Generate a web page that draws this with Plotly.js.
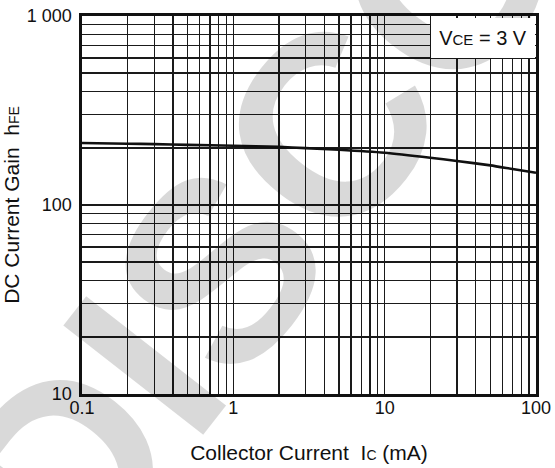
<!DOCTYPE html>
<html>
<head>
<meta charset="utf-8">
<script src="https://cdn.plot.ly/plotly-3.0.1.min.js"></script>
<style>
  html, body { margin: 0; padding: 0; background: #ffffff; }
  #chart { width: 555px; height: 468px; }
</style>
</head>
<body>
<div id="chart"></div>
<script>
// ---- data ----
const collectorCurrent_mA = [0.1, 0.2, 0.3, 0.5, 1, 2, 3, 5, 10, 20, 30, 50, 70, 100];
const dcCurrentGain_hFE   = [213, 211, 210, 208, 206, 203, 200, 196, 189, 178, 171, 162, 155, 148];

const xGridValues = [0.1,0.2,0.3,0.4,0.5,0.6,0.7,0.8,0.9,1,2,3,4,5,6,7,8,9,10,20,30,40,50,60,70,80,90,100];
const xLabeled    = {0.1: '0.1', 1: '1', 10: '10', 100: '100'};
const yGridValues = [10,20,30,40,50,60,70,80,90,100,200,300,400,500,600,700,800,900,1000];
const yLabeled    = {10: '10', 100: '100', 1000: '1 000'};

const conditionLabel = 'V<span style="font-size:15px">CE</span> = 3 V';
const watermarkText = 'DISCONTINUED';

const xTickText = xGridValues.map(v => xLabeled[v] || '');
const yTickText = yGridValues.map(v => yLabeled[v] || '');

const FONT = 'Liberation Sans, Arial, Helvetica, sans-serif';
const INK = '#111111';

const trace = {
  x: collectorCurrent_mA,
  y: dcCurrentGain_hFE,
  type: 'scatter',
  mode: 'lines',
  line: { color: INK, width: 2.6, shape: 'spline', smoothing: 0.6 },
  hoverinfo: 'skip'
};

const layout = {
  width: 555,
  height: 468,
  margin: { l: 82, r: 19, t: 16, b: 74 },
  paper_bgcolor: '#ffffff',
  plot_bgcolor: 'rgba(0,0,0,0)',
  showlegend: false,
  font: { family: FONT, color: INK, size: 18 },
  xaxis: {
    type: 'log',
    range: [-1, 2],
    tickmode: 'array',
    tickvals: xGridValues,
    ticktext: xTickText,
    ticks: '',
    showgrid: true,
    gridcolor: '#1a1a1a',
    gridwidth: 1.3,
    showline: true,
    linecolor: INK,
    linewidth: 2.6,
    mirror: true,
    zeroline: false,
    tickfont: { family: FONT, size: 18, color: INK },
    ticklabelstandoff: -4,
    title: { text: 'Collector Current  I<span style="font-size:14px">C</span> (mA)', font: { family: FONT, size: 21, color: INK }, standoff: 28 }
  },
  yaxis: {
    type: 'log',
    range: [1, 3],
    tickmode: 'array',
    tickvals: yGridValues,
    ticktext: yTickText,
    ticks: '',
    showgrid: true,
    gridcolor: '#1a1a1a',
    gridwidth: 1.3,
    showline: true,
    linecolor: INK,
    linewidth: 2.6,
    mirror: true,
    zeroline: false,
    tickfont: { family: FONT, size: 18, color: INK },
    ticklabelstandoff: 4,
    title: { text: 'DC Current Gain  h<span style="font-size:14px">FE</span>', font: { family: FONT, size: 21, color: INK }, standoff: 2 }
  },
  annotations: [
    {
      xref: 'paper', yref: 'paper',
      x: 1.167, y: 1.66,
      xanchor: 'center', yanchor: 'middle',
      text: watermarkText,
      textangle: -52,
      showarrow: false,
      font: { family: FONT, size: 258, color: 'rgba(0,0,0,0.15)', weight: 'bold' }
    },
    {
      xref: 'x', yref: 'y',
      x: 2, y: 3,
      xanchor: 'right', yanchor: 'top',
      xshift: -1.5, yshift: -1.5,
      width: 104, height: 40,
      bgcolor: '#ffffff',
      borderpad: 0,
      borderwidth: 0,
      text: conditionLabel,
      showarrow: false,
      align: 'center',
      font: { family: FONT, size: 20, color: INK }
    }
  ]
};

Plotly.newPlot('chart', [trace], layout, { displayModeBar: false, staticPlot: true });
</script>
</body>
</html>
